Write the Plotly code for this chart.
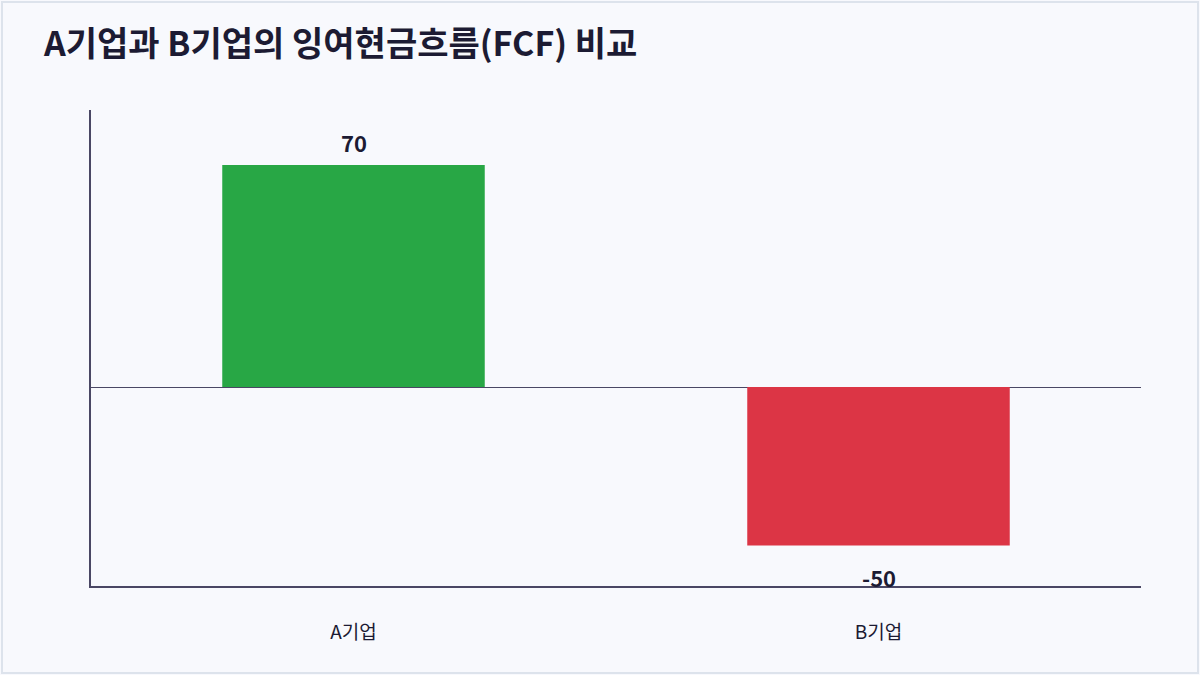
import plotly.graph_objects as go

# data
companies = ["A기업", "B기업"]
fcf = [70, -50]
bar_colors = ["#28a745", "#dc3545"]
value_labels = ["70", "-50"]

title_text = "A기업과 B기업의 잉여현금흐름(FCF) 비교"

ink = "#1c1b33"
axis_col = "#4a4764"
font_family = "Noto Sans CJK KR"

fig = go.Figure(
    go.Bar(
        x=companies,
        y=fcf,
        marker=dict(color=bar_colors, line=dict(width=0)),
        hoverinfo="x+y",
    )
)

# value labels above / below bars
for name, val, lab in zip(companies, fcf, value_labels):
    fig.add_annotation(
        x=name, y=val, text="<b>%s</b>" % lab, showarrow=False,
        yanchor="middle", yshift=23 if val >= 0 else -31,
        font=dict(family=font_family, size=22, color=ink),
    )

# frame round the card
fig.add_shape(
    type="rect", xref="paper", yref="paper",
    x0=-89 / 1050, x1=1107 / 1050, y0=-87 / 476, y1=584 / 476,
    line=dict(color="#dde3ec", width=2), layer="below",
)

fig.update_layout(
    width=1200, height=675,
    margin=dict(l=91, r=59, t=110, b=89, pad=0),
    paper_bgcolor="#f8f9fd", plot_bgcolor="#f8f9fd",
    bargap=0.5,
    showlegend=False,
    font=dict(family=font_family, color=ink),
    title=dict(
        text="<b>%s</b>" % title_text,
        x=44 / 1200, xanchor="left", xref="container",
        y=1 - 44 / 675, yanchor="middle", yref="container",
        font=dict(family=font_family, size=34, color=ink),
    ),
    xaxis=dict(
        showgrid=False, zeroline=False,
        showline=True, linecolor=axis_col, linewidth=2,
        ticks="", ticklabelstandoff=28,
        tickfont=dict(family=font_family, size=19, color=ink),
    ),
    yaxis=dict(
        range=[-62.75, 87.35],
        showgrid=False, showticklabels=False, ticks="",
        showline=True, linecolor=axis_col, linewidth=2,
        zeroline=True, zerolinecolor=axis_col, zerolinewidth=1,
    ),
)

config = {"displayModeBar": False, "displaylogo": False}
fig.write_html("out.html", config=config,
               post_script="document.body.style.margin='0';")
